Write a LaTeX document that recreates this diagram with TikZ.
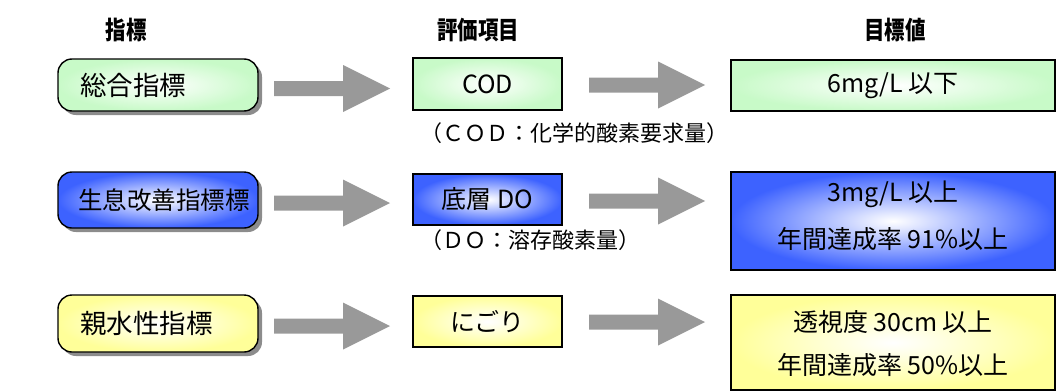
\documentclass[tikz,border=0pt]{standalone}
\usepackage{fontspec}
\usetikzlibrary{calc}
\newfontfamily\jp{Noto Sans CJK JP}
\newfontfamily\hdr{Noto Sans CJK JP}[FakeStretch=0.82]
\definecolor{gfill}{HTML}{C8FAC8}
\definecolor{bfill}{HTML}{3D62FF}
\definecolor{yfill}{HTML}{FFFF99}
\definecolor{agray}{HTML}{999999}
\pgfdeclareradialshading{glowg}{\pgfpoint{0bp}{0bp}}{color(0bp)=(white); color(4bp)=(white!85!gfill); color(25bp)=(gfill); color(50bp)=(gfill)}
\pgfdeclareradialshading{glowb}{\pgfpoint{0bp}{0bp}}{color(0bp)=(white); color(4bp)=(white!85!bfill); color(25bp)=(bfill); color(50bp)=(bfill)}
\pgfdeclareradialshading{glowy}{\pgfpoint{0bp}{0bp}}{color(0bp)=(white); color(4bp)=(white!85!yfill); color(25bp)=(yfill); color(50bp)=(yfill)}
\newcommand{\blockarr}[2]{%
  \fill[agray] ($(#1)+(0,-7.5)$) -- ($(#2)+(-47,-7.5)$) -- ($(#2)+(-47,-23.5)$) -- (#2)
    -- ($(#2)+(-47,23.5)$) -- ($(#2)+(-47,7.5)$) -- ($(#1)+(0,7.5)$) -- cycle;}
\begin{document}
\begin{tikzpicture}[x=1pt,y=-1pt,
  hd/.style={font=\hdr\bfseries\fontsize{25}{28}\selectfont},
  bt/.style={font=\jp\fontsize{25}{30}\selectfont, inner sep=0pt},
  lt/.style={font=\jp\fontsize{26.5}{30}\selectfont, inner sep=0pt, anchor=west},
  nt/.style={font=\jp\fontsize{22}{24}\selectfont, inner sep=0pt, anchor=west},
  bx/.style={draw=black, line width=1.4pt},
  gshade/.style={shading=glowg},
  bshade/.style={shading=glowb},
  yshade/.style={shading=glowy},
  shadowc/.style={fill=black!45}]
\useasboundingbox (0,0) rectangle (1057,391);
% headers
\node[hd] (h1) at (126,30) {指標};
\node[hd] (h2) at (478,30) {評価項目};
\node[hd] (h3) at (895,30) {目標値};
% left rounded boxes with shadow
\foreach \ya/\yb/\sh in {59/111/gshade, 172/228/bshade, 295/352/yshade}{
  \fill[shadowc, rounded corners=14pt] (62,\ya+4) rectangle (262,\yb+4);
  \draw[bx, \sh, rounded corners=14pt] (58,\ya) rectangle (258,\yb);
}
\node[lt] (l1) at (80,85) {総合指標};
\node[lt, font=\jp\fontsize{24.5}{30}\selectfont] (l2) at (78,200) {生息改善指標標};
\node[lt] (l3) at (80,323) {親水性指標};
% middle boxes
\draw[bx, gshade] (413,58) rectangle (562,110);
\draw[bx, bshade] (413,174) rectangle (562,225);
\draw[bx, yshade] (413,296) rectangle (562,347);
\node[bt] (m1) at (487.5,84) {COD};
\node[bt] (m2) at (487.5,199.5) {底層 DO};
\node[bt] (m3) at (487.5,321.5) {にごり};
\node[nt] (n1) at (420,133) {（ＣＯＤ：化学的酸素要求量）};
\node[nt] (n2) at (420,240) {（ＤＯ：溶存酸素量）};
% target boxes
\draw[bx, gshade] (731,60) rectangle (1055,111);
\draw[bx, bshade] (731,172) rectangle (1055,270);
\draw[bx, yshade] (731,295) rectangle (1055,390);
\node[bt] (t1) at (893,85.5) {6mg/L 以下};
\node[bt] (t2a) at (893,194) {3mg/L 以上};
\node[bt] (t2b) at (893,239) {年間達成率 91\%以上};
\node[bt] (t3a) at (893,322) {透視度 30cm 以上};
\node[bt] (t3b) at (893,365) {年間達成率 50\%以上};
% arrows
\coordinate (a1s) at (274,88.5); \coordinate (a1e) at (390,88.5);
\coordinate (b1s) at (589,85);   \coordinate (b1e) at (705,85);
\coordinate (a2s) at (274,203);  \coordinate (a2e) at (390,203);
\coordinate (b2s) at (589,201);  \coordinate (b2e) at (705,201);
\coordinate (a3s) at (274,326);  \coordinate (a3e) at (390,326);
\coordinate (b3s) at (589,322);  \coordinate (b3e) at (705,322);
\blockarr{a1s}{a1e}
\blockarr{b1s}{b1e}
\blockarr{a2s}{a2e}
\blockarr{b2s}{b2e}
\blockarr{a3s}{a3e}
\blockarr{b3s}{b3e}
\end{tikzpicture}
\end{document}
